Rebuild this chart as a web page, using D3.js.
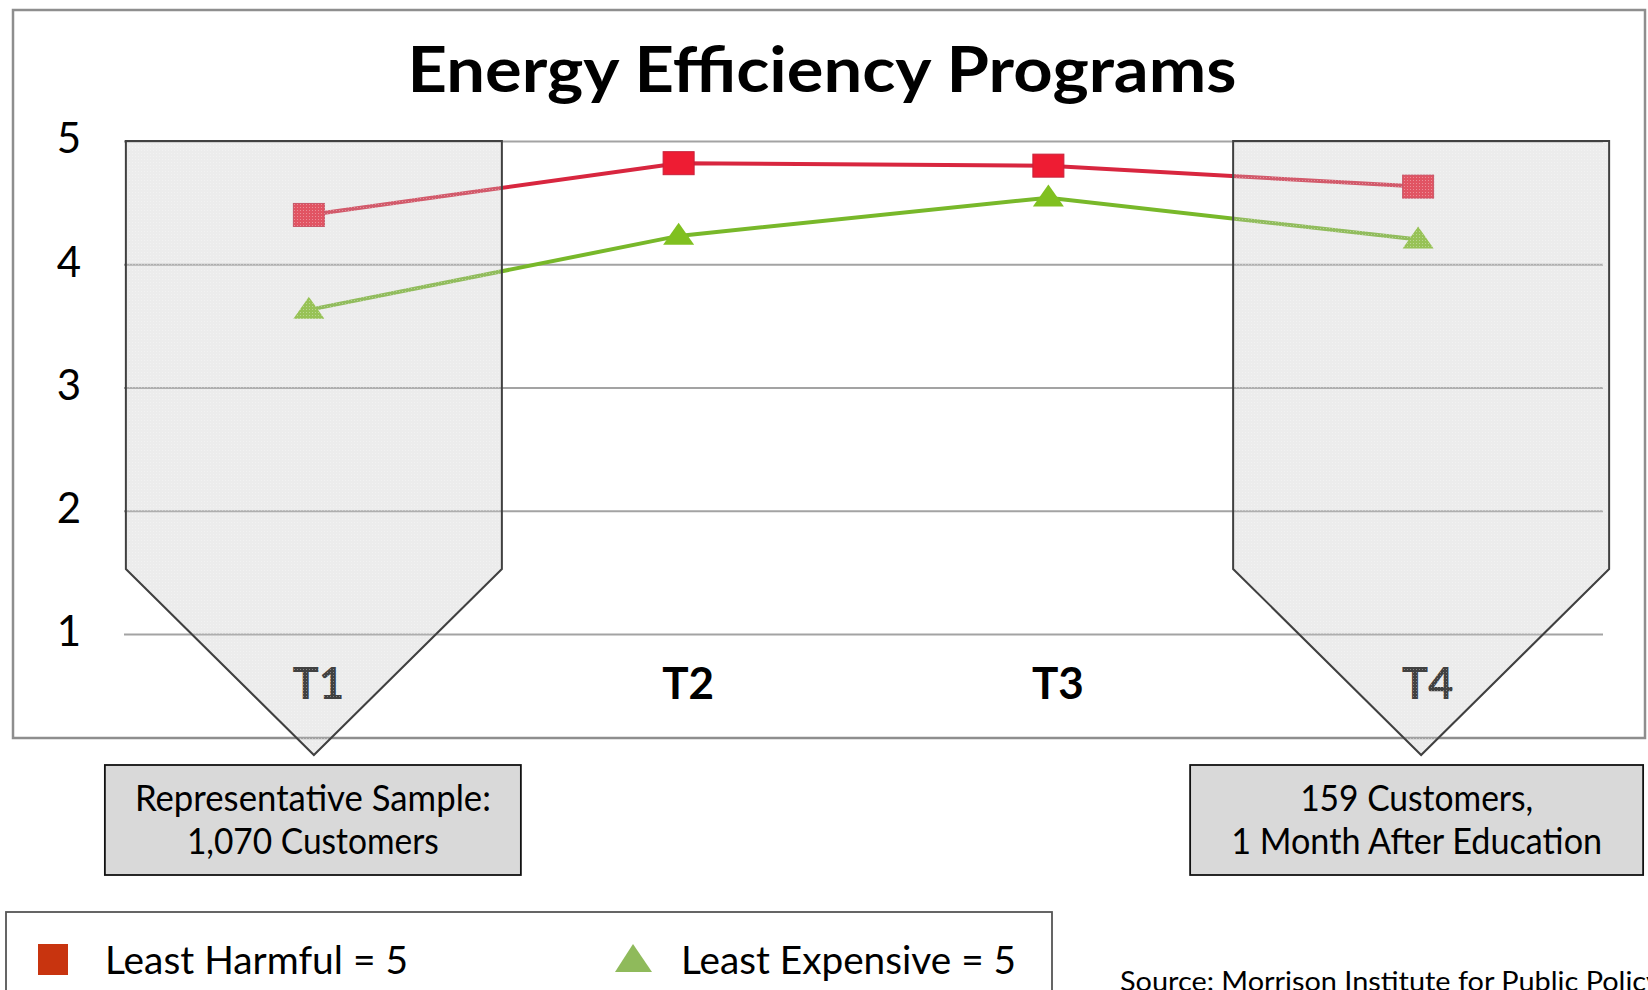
<!DOCTYPE html>
<html>
<head>
<meta charset="utf-8">
<script src="https://cdn.jsdelivr.net/npm/d3@7"></script>
<style>
  html, body { margin: 0; padding: 0; background: #ffffff; }
  svg { display: block; }
  text { font-family: Lato, "Open Sans", "DejaVu Sans", sans-serif; }
</style>
</head>
<body>
<svg id="chart" width="1648" height="990"></svg>
<script>
// ---------------- data ----------------
const categories = ["T1", "T2", "T3", "T4"];
const leastHarmful = [4.40, 4.82, 4.80, 4.63];
const leastExpensive = [3.63, 4.23, 4.54, 4.20];
const yTicks = [1, 2, 3, 4, 5];
const titleText = "Energy Efficiency Programs";
const seriesNames = ["Least Harmful = 5", "Least Expensive = 5"];
const calloutCategories = ["T1", "T4"];
const calloutLines = [
  ["Representative Sample:", "1,070 Customers"],
  ["159 Customers,", "1 Month After Education"]
];
const sourceText = "Source: Morrison Institute for Public Policy";

// ---------------- layout ----------------
const W = 1648, H = 990;
const plotL = 124, plotR = 1603, plotT = 141, plotB = 634;
const svg = d3.select("#chart");

function fit(sel, w) {
  sel.attr("textLength", w).attr("lengthAdjust", "spacingAndGlyphs");
  return sel;
}

svg.append("rect").attr("x", 0).attr("y", 0).attr("width", W).attr("height", H).attr("fill", "#fff");

// outer chart frame
svg.append("rect")
  .attr("x", 13).attr("y", 10).attr("width", 1632).attr("height", 728)
  .attr("fill", "#fff").attr("stroke", "#8e8e8e").attr("stroke-width", 2.5);

const x = d3.scalePoint().domain(categories).range([plotL, plotR]).padding(0.5);
const y = d3.scaleLinear().domain([1, 5]).range([plotB, plotT]);

// title
fit(svg.append("text")
  .attr("x", 822).attr("y", 92)
  .attr("text-anchor", "middle")
  .attr("font-size", 63).attr("font-weight", 700).attr("fill", "#000")
  .text(titleText), 829);

// y axis with gridlines
const yAxis = svg.append("g")
  .attr("transform", `translate(${plotL},0)`)
  .call(d3.axisLeft(y).tickValues(yTicks).tickSize(-(plotR - plotL)).tickPadding(43).tickFormat(d3.format("d")));
yAxis.select(".domain").remove();
yAxis.selectAll(".tick line").attr("stroke", "#a3a3a3").attr("stroke-width", 2);
yAxis.selectAll(".tick text")
  .attr("font-family", "Lato, 'Open Sans', sans-serif")
  .attr("font-size", 42).attr("fill", "#000").attr("dy", "0.28em");

// x axis labels
const xAxis = svg.append("g")
  .attr("transform", `translate(9,${plotB})`)
  .call(d3.axisBottom(x).tickSize(0).tickPadding(34));
xAxis.select(".domain").remove();
xAxis.selectAll(".tick text")
  .attr("font-family", "Lato, 'Open Sans', sans-serif")
  .attr("font-size", 44).attr("font-weight", 700).attr("fill", "#000");

// series lines
const line = d3.line().x((d, i) => x(categories[i])).y(d => y(d));
svg.append("path").datum(leastHarmful)
  .attr("d", line).attr("fill", "none").attr("stroke", "#d8263f").attr("stroke-width", 4);
svg.append("path").datum(leastExpensive)
  .attr("d", line).attr("fill", "none").attr("stroke", "#78b82a").attr("stroke-width", 4);

// markers
const sqW = 31, sqH = 23;
svg.append("g").selectAll("rect").data(leastHarmful).join("rect")
  .attr("x", (d, i) => x(categories[i]) - sqW / 2)
  .attr("y", d => y(d) - sqH / 2)
  .attr("width", sqW).attr("height", sqH)
  .attr("fill", "#ee1c33").attr("stroke", "#c8203a").attr("stroke-width", 1);

const triW = 31, triH = 22;
svg.append("g").selectAll("path").data(leastExpensive).join("path")
  .attr("d", (d, i) => {
    const cx = x(categories[i]), cy = y(d);
    return `M${cx},${cy - triH * 0.6}L${cx + triW / 2},${cy + triH * 0.4}L${cx - triW / 2},${cy + triH * 0.4}Z`;
  })
  .attr("fill", "#80c020");

// dotted texture for the callouts
const defs = svg.append("defs");
const pat = defs.append("pattern").attr("id", "dots")
  .attr("width", 3).attr("height", 3).attr("patternUnits", "userSpaceOnUse");
pat.append("rect").attr("width", 3).attr("height", 3).attr("fill", "#c6c6c6").attr("fill-opacity", 0.33);
pat.append("rect").attr("width", 1).attr("height", 1).attr("fill", "#ffffff").attr("fill-opacity", 0.35);

// callout overlays
const calloutHalf = 188;
const calloutShift = [5, 3];
const calloutNeck = 569, calloutTip = 755;
calloutCategories.forEach((c, k) => {
  const cx = x(c) + calloutShift[k];
  const pts = [
    [cx - calloutHalf, plotT], [cx + calloutHalf, plotT],
    [cx + calloutHalf, calloutNeck], [cx, calloutTip],
    [cx - calloutHalf, calloutNeck]
  ];
  svg.append("path")
    .attr("d", d3.line()(pts) + "Z")
    .attr("fill", "url(#dots)")
    .attr("stroke", "#404040").attr("stroke-width", 2);
});

// annotation boxes
const boxW = [416, 453], boxT = 765, boxH = 110;
calloutCategories.forEach((c, k) => {
  const cx = x(c) + calloutShift[k];
  const bx = k === 0 ? cx - 209 : cx - 231;
  svg.append("rect")
    .attr("x", bx).attr("y", boxT).attr("width", boxW[k]).attr("height", boxH)
    .attr("fill", "#d9d9d9").attr("stroke", "#111").attr("stroke-width", 1.8);
  const widths = k === 0 ? [356, 252] : [233, 371];
  calloutLines[k].forEach((t, j) => {
    fit(svg.append("text")
      .attr("x", bx + boxW[k] / 2).attr("y", 811 + j * 43)
      .attr("text-anchor", "middle")
      .attr("font-size", 36).attr("fill", "#000")
      .text(t), widths[j]);
  });
});

// legend
svg.append("rect")
  .attr("x", 6).attr("y", 912).attr("width", 1046).attr("height", 120)
  .attr("fill", "#fff").attr("stroke", "#555").attr("stroke-width", 1.8);
svg.append("rect")
  .attr("x", 38).attr("y", 944).attr("width", 30).attr("height", 31)
  .attr("fill", "#c8340f");
fit(svg.append("text").attr("x", 105).attr("y", 974)
  .attr("font-size", 39).attr("fill", "#000").text(seriesNames[0]), 303);
svg.append("path")
  .attr("d", "M633,944L652,972L615,972Z")
  .attr("fill", "#8fba5b");
fit(svg.append("text").attr("x", 681).attr("y", 974)
  .attr("font-size", 39).attr("fill", "#000").text(seriesNames[1]), 335);

// source (cut by the bottom edge as in the original)
fit(svg.append("text").attr("x", 1120).attr("y", 991)
  .attr("font-size", 27).attr("fill", "#000").text(sourceText), 541);
</script>
</body>
</html>
